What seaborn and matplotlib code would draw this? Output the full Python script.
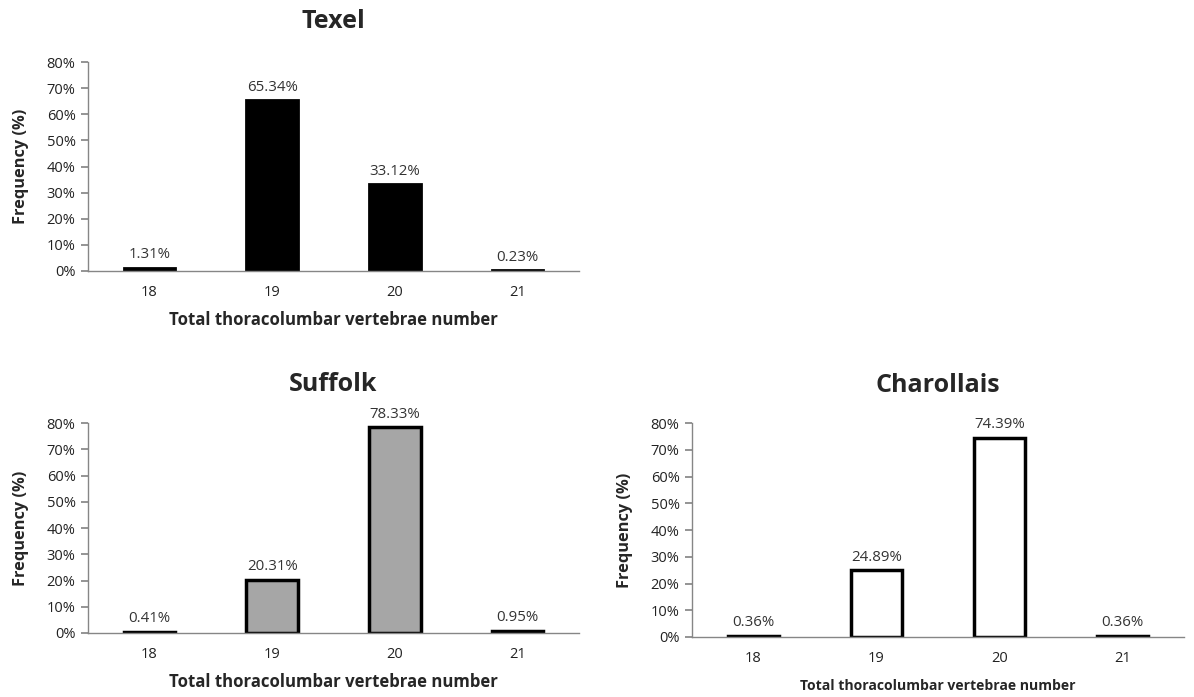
import numpy as np
import pandas as pd
import seaborn as sns
import matplotlib.pyplot as plt
from matplotlib.ticker import PercentFormatter

categories = ['18', '19', '20', '21']
texel = [0.0131, 0.6534, 0.3312, 0.0023]
suffolk = [0.0041, 0.2031, 0.7833, 0.0095]
charollais = [0.0036, 0.2489, 0.7439, 0.0036]

texel_labels = ['1.31%', '65.34%', '33.12%', '0.23%']
suffolk_labels = ['0.41%', '20.31%', '78.33%', '0.95%']
charollais_labels = ['0.36%', '24.89%', '74.39%', '0.36%']

sns.set_theme(style='white')
plt.rcParams['font.family'] = ['Open Sans', 'DejaVu Sans']

W, H = 1194, 697
fig = plt.figure(figsize=(W / 100, H / 100), dpi=100)


def px_axes(left, top, right, bottom):
    ax = fig.add_axes([left / W, 1 - bottom / H, (right - left) / W, (bottom - top) / H])
    return ax, right - left, bottom - top


def draw(ax, w, h, title, values, labels, color, lw, xlabel_size, title_gap):
    df = pd.DataFrame({'n': categories, 'freq': values})
    sns.barplot(data=df, x='n', y='freq', color=color, edgecolor='black',
                linewidth=lw, width=0.42, saturation=1, ax=ax)
    ax.bar_label(ax.containers[0], labels=labels, padding=4, fontsize=10.8, color='#333333')
    ax.set_ylim(0, 0.8)
    ax.set_xlim(-0.5, 3.5)
    ax.yaxis.set_major_formatter(PercentFormatter(1.0, decimals=0))
    ax.set_yticks(np.arange(0, 0.81, 0.1))
    ax.set_xticks([-0.5, 0.5, 1.5, 2.5, 3.5], minor=True)
    ax.tick_params(axis='x', which='major', length=0, labelsize=10.5, pad=10,
                   labelcolor='#222222')
    ax.tick_params(axis='x', which='minor', length=5, color='#868686', direction='out')
    ax.tick_params(axis='y', length=5, color='#868686', direction='out', labelsize=10.5,
                   labelcolor='#222222', left=True, pad=4)
    for side in ['top', 'right']:
        ax.spines[side].set_visible(False)
    for side in ['left', 'bottom']:
        ax.spines[side].set_color('#868686')
        ax.spines[side].set_linewidth(1)
    ax.set_ylabel('Frequency (%)', fontsize=11.8, fontweight='bold')
    ax.yaxis.set_label_coords(-67 / w, 0.5)
    ax.yaxis.label.set_va('center')
    ax.set_xlabel('Total thoracolumbar vertebrae number', fontsize=xlabel_size,
                  fontweight='bold')
    ax.xaxis.set_label_coords(0.5, -49 / h)
    ax.xaxis.label.set_va('center')
    ax.set_title(title, fontsize=18, fontweight='bold', y=1 + title_gap / h,
                 va='center', pad=0)


ax1, w1, h1 = px_axes(88, 62, 579, 271)
draw(ax1, w1, h1, 'Texel', texel, texel_labels, 'black', 2.0, 12.1, 40)

ax2, w2, h2 = px_axes(88, 423, 579, 633)
draw(ax2, w2, h2, 'Suffolk', suffolk, suffolk_labels, '#a6a6a6', 2.5, 12.1, 39)

ax3, w3, h3 = px_axes(692, 423, 1184, 637)
draw(ax3, w3, h3, 'Charollais', charollais, charollais_labels, 'white', 2.5, 10.1, 38)

fig.savefig('out.png', dpi=100)
